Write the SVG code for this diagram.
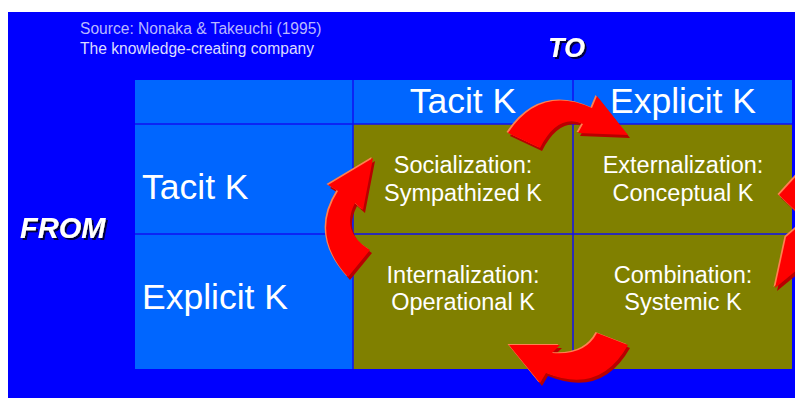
<svg xmlns="http://www.w3.org/2000/svg" width="795" height="398" viewBox="0 0 795 398">
<style>
.src{font-family:"Liberation Sans",Arial,sans-serif;font-size:15.6px}
.big{font-family:"Liberation Sans",Arial,sans-serif;font-size:35.5px;fill:#fff}
.cell{font-family:"Liberation Sans",Arial,sans-serif;font-size:23.5px;fill:#fff;text-anchor:middle}
.axis{font-family:"Liberation Sans",Arial,sans-serif;font-weight:bold;font-style:italic;fill:#fff;filter:url(#sh)}
.lb{fill:#0066ff}
.ol{fill:#808000}
.gl{stroke:#1010f0;stroke-width:1.5;fill:none}
</style>
<defs>
<filter id="sh" x="-20%" y="-20%" width="140%" height="140%">
<feDropShadow dx="2" dy="2" stdDeviation="0" flood-color="#000040"/>
</filter>
<path id="aTop" d="M508,133 Q540,85 592,108 L597,96 L628,135 L578,133 L583,124 Q558,113 540,148 Z"/>
<path id="aLeft" d="M348,277 Q310,235 338,191 L328,185 L373,158 L363,210 L355,203 Q340,232 370,250 Z"/>
<path id="aBot" d="M597,333 Q585,356 552,353 L560,345 L509,345 L540,383 L546,373 Q600,395 628,345 Z"/>
<path id="aR1" d="M779,195 L800,172 L820,190 L800,215 Z"/>
<path id="aR2" d="M786,237 L775,288 L815,255 L800,225 Z"/>
</defs>
<rect x="8" y="12" width="787" height="386" fill="#0000ff"/>
<g id="source">
<text class="src" x="80" y="34" fill="#b8b8ff">Source: Nonaka &amp; Takeuchi (1995)</text>
<text class="src" x="80" y="54" fill="#dcdcff">The knowledge-creating company</text>
</g>
<g id="to"><text class="axis" x="548" y="57" font-size="27">TO</text></g>
<g id="from"><text class="axis" x="20" y="238" font-size="29">FROM</text></g>
<g id="grid">
<rect class="lb" x="135" y="80" width="657" height="44"/>
<rect class="lb" x="135" y="124" width="218" height="245"/>
<rect class="ol" x="353" y="124" width="439" height="245"/>
</g>
<g id="header-tacit"><text class="big" x="463" y="113" text-anchor="middle">Tacit K</text></g>
<g id="header-explicit"><text class="big" x="683" y="113" text-anchor="middle">Explicit K</text></g>
<g id="row-tacit"><text class="big" x="142" y="199">Tacit K</text></g>
<g id="row-explicit"><text class="big" x="142" y="309">Explicit K</text></g>
<g id="socialization"><text class="cell" x="463" y="173">Socialization:</text><text class="cell" x="463" y="201">Sympathized K</text></g>
<g id="externalization"><text class="cell" x="683" y="173">Externalization:</text><text class="cell" x="683" y="201">Conceptual K</text></g>
<g id="internalization"><text class="cell" x="463" y="283">Internalization:</text><text class="cell" x="463" y="310">Operational K</text></g>
<g id="combination"><text class="cell" x="683" y="283">Combination:</text><text class="cell" x="683" y="310">Systemic K</text></g>
<g id="gridlines">
<line class="gl" x1="353" y1="80" x2="353" y2="369"/>
<line class="gl" x1="573" y1="80" x2="573" y2="369"/>
<line class="gl" x1="135" y1="124" x2="792" y2="124"/>
<line class="gl" x1="135" y1="234" x2="792" y2="234"/>
</g>
<g id="connectors">
<g fill="#b80000" transform="translate(2,3)"><use href="#aTop"/><use href="#aLeft"/><use href="#aBot"/><use href="#aR1"/><use href="#aR2"/></g>
<g fill="#ff8050" transform="translate(-1.5,-1)"><use href="#aTop"/><use href="#aLeft"/><use href="#aBot"/><use href="#aR1"/><use href="#aR2"/></g>
<g fill="#ff0000"><use href="#aTop"/><use href="#aLeft"/><use href="#aBot"/><use href="#aR1"/><use href="#aR2"/></g>
</g>
</svg>
